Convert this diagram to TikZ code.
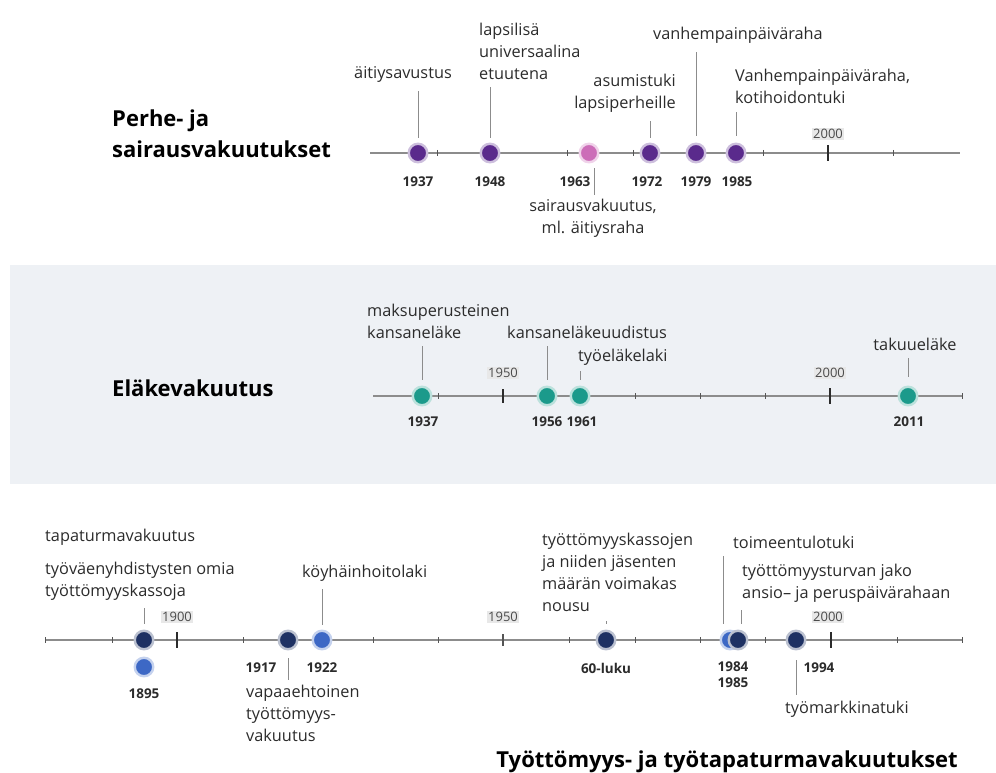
\documentclass[tikz,border=0pt]{standalone}
\usepackage{fontspec}
\setmainfont{Open Sans}
\definecolor{purp}{HTML}{5A2A8C}
\definecolor{pink}{HTML}{CC6DB8}
\definecolor{teal}{HTML}{1B9A8B}
\definecolor{navy}{HTML}{1E3163}
\definecolor{bluec}{HTML}{3D68C5}
\definecolor{band}{HTML}{EEF1F5}
\definecolor{axis}{HTML}{8C8C8C}
\definecolor{ink}{HTML}{2B2B2B}
\tikzset{
  dot/.style={circle,minimum size=18.5pt,inner sep=0pt,fill=#1,draw=#1!30,line width=2.4pt},
  lbl/.style={inner sep=0pt,text=ink,font=\fontsize{16.3}{22}\selectfont},
  lbll/.style={lbl,anchor=west,align=left},
  yr/.style={inner sep=0pt,text=ink,font=\bfseries\fontsize{13.5}{16}\selectfont,align=center},
  ttl/.style={inner sep=0pt,text=black,font=\bfseries\fontsize{22}{31}\selectfont,align=left},
  decade/.style={inner sep=1.5pt,fill=black!9,text=ink!85,font=\fontsize{13}{14}\selectfont},
  conn/.style={draw=axis,line width=0.9pt},
  axisline/.style={draw=axis,line width=1.6pt},
  smalltick/.style={draw=ink!80,line width=1pt},
  bigtick/.style={draw=ink,line width=2pt},
}
\begin{document}
\begin{tikzpicture}[x=1pt,y=-1pt]
\useasboundingbox (0,0) rectangle (996,773);
% pension band
\fill[band] (10,265) rectangle (996,484);

%% ---------- family and sickness insurance ----------
\node[ttl,anchor=west] (ttlA) at (112,134) {Perhe- ja\\sairausvakuutukset};
\coordinate (aL) at (370,153);
\coordinate (aR) at (960,153);
\draw[axisline] (aL) -- (aR);
\foreach \x in {437,567,633,763,893} \draw[smalltick] (\x,150) -- (\x,156);
\draw[bigtick] (828,145) -- (828,161);
\node[decade] (aY2000) at (828,134) {2000};

\node[dot=purp] (a37) at (418,153) {};
\node[dot=purp] (a48) at (490,153) {};
\node[dot=pink] (a63) at (589,153) {};
\node[dot=purp] (a72) at (650,153) {};
\node[dot=purp] (a79) at (696,153) {};
\node[dot=purp] (a85) at (736,153) {};

\node[yr] (ya37) at (418,182) {1937};
\node[yr] (ya48) at (490,182) {1948};
\node[yr] (ya63) at (575,182) {1963};
\node[yr] (ya72) at (647,182) {1972};
\node[yr] (ya79) at (696,182) {1979};
\node[yr] (ya85) at (737,182) {1985};

\node[lbl] (ea37) at (403,74) {äitiysavustus};
\node[lbll] (ea48) at (479,51) {lapsilisä\\universaalina\\etuutena};
\node[lbl,anchor=east,align=right] (ea72) at (676,93) {asumistuki\\lapsiperheille};
\node[lbl] (ea79) at (738,35) {vanhempainpäiväraha};
\node[lbll] (ea85) at (735,86) {Vanhempainpäiväraha,\\kotihoidontuki};
\node[lbl,align=center] (ea63) at (593,218) {sairausvakuutus,\\ml. äitiysraha};

\draw[conn] ([yshift=-9pt]ea37.south -| a37) -- ([yshift=5pt]a37.north);
\draw[conn] ([yshift=-8pt]ea48.south -| a48) -- ([yshift=5pt]a48.north);
\draw[conn] ([yshift=-9pt]ea72.south -| a72) -- ([yshift=5pt]a72.north);
\draw[conn] ([yshift=-9pt]ea79.south -| a79) -- ([yshift=7pt]a79.north);
\draw[conn] ([yshift=-9pt]ea85.south -| a85) -- ([yshift=7pt]a85.north);
\draw[conn] ([xshift=5pt,yshift=-5pt]a63.south) -- ([xshift=5pt,yshift=4pt]a63.south |- ea63.north);

%% ---------- pension insurance ----------
\node[ttl,anchor=west] (ttlB) at (112,388) {Eläkevakuutus};
\coordinate (bL) at (373,396);
\coordinate (bR) at (962,396);
\draw[axisline] (bL) -- (bR);
\foreach \x in {438,635,700,765,962} \draw[smalltick] (\x,393) -- (\x,399);
\draw[bigtick] (503,389) -- (503,403);
\draw[bigtick] (830,388) -- (830,404);
\node[decade] (bY1950) at (503,373) {1950};
\node[decade] (bY2000) at (830,373) {2000};

\node[dot=teal] (b37) at (422,396) {};
\node[dot=teal] (b56) at (547,396) {};
\node[dot=teal] (b61) at (580,396) {};
\node[dot=teal] (b11) at (908,396) {};

\node[yr] (yb37) at (423,422) {1937};
\node[yr] (yb56) at (547,422) {1956};
\node[yr] (yb61) at (582,422) {1961};
\node[yr] (yb11) at (909,422) {2011};

\node[lbll] (eb37) at (367,321) {maksuperusteinen\\kansaneläke};
\node[lbll] (eb56) at (507,332) {kansaneläkeuudistus};
\node[lbll] (eb61) at (578,357) {työeläkelaki};
\node[lbl] (eb11) at (915,344) {takuueläke};

\draw[conn] ([yshift=-8pt]eb37.south -| b37) -- ([yshift=6pt]b37.north);
\draw[conn] ([yshift=-8pt]eb56.south -| b56) -- ([yshift=6pt]b56.north);
\draw[conn] ([yshift=-6pt]eb61.south -| b61) -- ([yshift=6pt]b61.north);
\draw[conn] ([yshift=-8pt]eb11.south -| b11) -- ([yshift=9pt]b11.north);

%% ---------- unemployment and accident insurance ----------
\node[ttl,anchor=east] (ttlC) at (958,762) {Työttömyys- ja työtapaturmavakuutukset};
\coordinate (cL) at (45,640);
\coordinate (cR) at (962,640);
\draw[axisline] (cL) -- (cR);
\foreach \x in {45,112,243,373,438,569,635,700,765,897,962} \draw[smalltick] (\x,637) -- (\x,643);
\draw[bigtick] (177,632) -- (177,648);
\draw[smalltick,line width=1.4pt] (503,634) -- (503,646);
\draw[bigtick] (831,632) -- (831,648);
\node[decade] (cY1900) at (177,617) {1900};
\node[decade] (cY1950) at (503,617) {1950};
\node[decade] (cY2000) at (828,617) {2000};

\node[dot=navy] (c95) at (144,640) {};
\node[dot=bluec] (c95b) at (144,667) {};
\node[dot=navy] (c17) at (288,640) {};
\node[dot=bluec] (c22) at (322,640) {};
\node[dot=navy] (c60) at (606,640) {};
\node[dot=bluec] (c84) at (730,640) {};
\node[dot=navy] (c85) at (738,640) {};
\node[dot=navy] (c94) at (796,640) {};

\node[yr] (yc95) at (144,694) {1895};
\node[yr] (yc17) at (261,668) {1917};
\node[yr] (yc22) at (322,668) {1922};
\node[yr] (yc60) at (606,668) {60-luku};
\node[yr] (yc84) at (733,675) {1984\\1985};
\node[yr] (yc94) at (819,668) {1994};

\node[lbll] (ec95a) at (45,537) {tapaturmavakuutus};
\node[lbll] (ec95) at (45,581) {työväenyhdistysten omia\\työttömyyskassoja};
\node[lbll] (ec22) at (302,573) {köyhäinhoitolaki};
\node[lbll] (ec60) at (542,572) {työttömyyskassojen\\ja niiden jäsenten\\määrän voimakas\\nousu};
\node[lbll] (ec84) at (733,542) {toimeentulotuki};
\node[lbll] (ec85) at (742,583) {työttömyysturvan jako\\ansio– ja peruspäivärahaan};
\node[lbll] (ec17) at (246,713) {vapaaehtoinen\\työttömyys-\\vakuutus};
\node[lbll] (ec94) at (785,709) {työmarkkinatuki};

\draw[conn] ([yshift=-8pt]ec95.south -| c95) -- ([yshift=6pt]c95.north);
\draw[conn] ([yshift=-8pt]ec22.south -| c22) -- ([yshift=5pt]c22.north);
\draw[conn] ([yshift=-10pt]ec60.south -| c60) -- ([yshift=6pt]c60.north);
\draw[conn] ([xshift=-7pt,yshift=-8pt]ec84.south -| c84) -- ([xshift=-7pt,yshift=6pt]c84.north);
\draw[conn] ([xshift=3pt,yshift=-8pt]ec85.south -| c85) -- ([xshift=3pt,yshift=6pt]c85.north);
\draw[conn] ([yshift=-8pt]c17.south) -- ([yshift=5pt]c17.south |- ec17.north);
\draw[conn] ([yshift=-10pt]c94.south) -- ([yshift=6pt]c94.south |- ec94.north);
\end{tikzpicture}
\end{document}
